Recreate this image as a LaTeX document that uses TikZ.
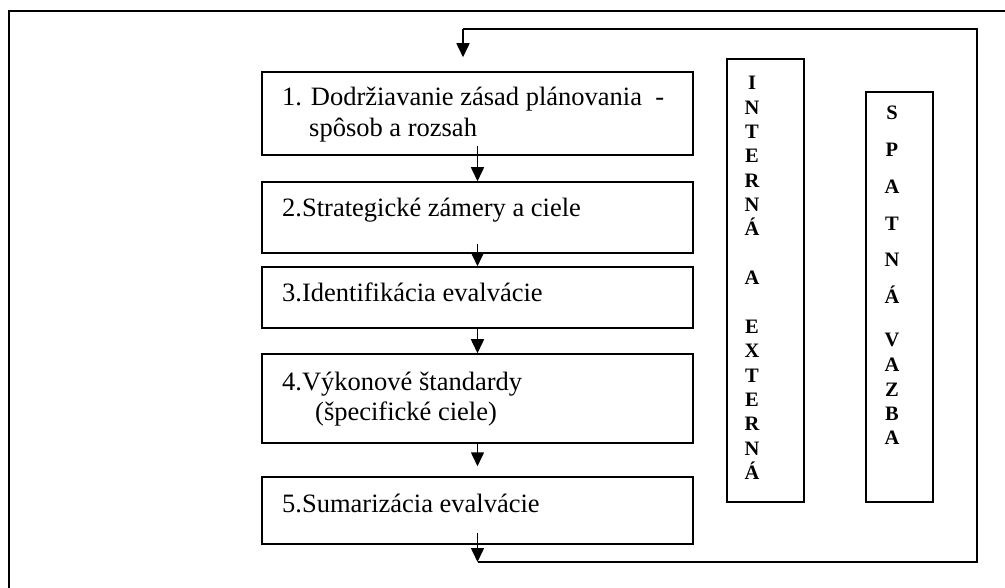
\documentclass[tikz,border=0pt]{standalone}
\usepackage{fontspec}
\setmainfont{Liberation Serif}
\usetikzlibrary{arrows.meta}
\begin{document}
\begin{tikzpicture}[x=1pt,y=-1pt,
  box/.style={draw,line width=1.5pt,inner sep=0pt},
  txt/.style={anchor=base west,inner sep=0pt,font=\fontsize{26.5}{30}\selectfont},
  let/.style={anchor=base,inner sep=0pt,font=\fontsize{20.5}{24}\selectfont\bfseries},
  arr/.style={line width=1.6pt,-{Triangle[length=14pt,width=13pt]}},
  fline/.style={line width=1.5pt}]
\useasboundingbox (0,0) rectangle (1005,588);
% outer frame (partly visible)
\draw[line width=1.8pt] (1005,11) -- (9,11) -- (9,588);
% process boxes
\node[box,minimum width=431pt,minimum height=83pt] (b1) at (477.5,113.5) {};
\node[box,minimum width=431pt,minimum height=71pt] (b2) at (477.5,217.5) {};
\node[box,minimum width=431pt,minimum height=61pt] (b3) at (477.5,297.5) {};
\node[box,minimum width=431pt,minimum height=89pt] (b4) at (477.5,398.5) {};
\node[box,minimum width=431pt,minimum height=67pt] (b5) at (477.5,510.5) {};
% texts
\node[txt] (t1a) at (282,106) {1. Dodržiavanie zásad plánovania\ \ -};
\node[txt] (t1b) at (309,137) {spôsob a rozsah};
\node[txt] (t2) at (282,217) {2.Strategické zámery a ciele};
\node[txt] (t3) at (282,302) {3.Identifikácia evalvácie};
\node[txt] (t4a) at (282,390) {4.Výkonové štandardy};
\node[txt] (t4b) at (315,420) {(špecifické ciele)};
\node[txt] (t5) at (282,512) {5.Sumarizácia evalvácie};
% side boxes
\node[box,minimum width=77pt,minimum height=443pt] (ie) at (765.5,280.5) {};
\node[box,minimum width=67pt,minimum height=410pt] (sv) at (899.5,297) {};
\foreach \ch [count=\i from 0] in {I,N,T,E,R,N,Á,{},A,{},E,X,T,E,R,N,Á}{
  \node[let] (ie\i) at (752,{83+\i*24.35+6.8}) {\ch};
}
\foreach \ch/\yy [count=\i] in {S/113,P/149.8,A/186.6,T/223.4,N/260.2,Á/297,V/340,A/365,Z/390,B/413.5,A/438}{
  \node[let] (sv\i) at (892,\yy+6.8) {\ch};
}
% arrows
\draw[arr] ([yshift=10pt]b1.south) -- (b2.north);
\draw[arr] ([yshift=10pt]b2.south) -- (b3.north);
\draw[arr] (b3.south) -- (b4.north);
\draw[arr] (b4.south) -- ([yshift=10pt]b5.north);
% feedback loop
\coordinate (fbr) at (977,562);
\coordinate (fbt) at (977,29);
\coordinate (fbl) at (463,29);
\coordinate (fbb) at (b5.south |- fbr);
\draw[arr] ([yshift=12pt]b5.south) -- (fbb);
\draw[fline] (fbb) -- (fbr) -- (fbt) -- (fbl);
\draw[arr] (fbl) -- ([xshift=-14.5pt,yshift=14pt]b1.north);
\end{tikzpicture}
\end{document}
